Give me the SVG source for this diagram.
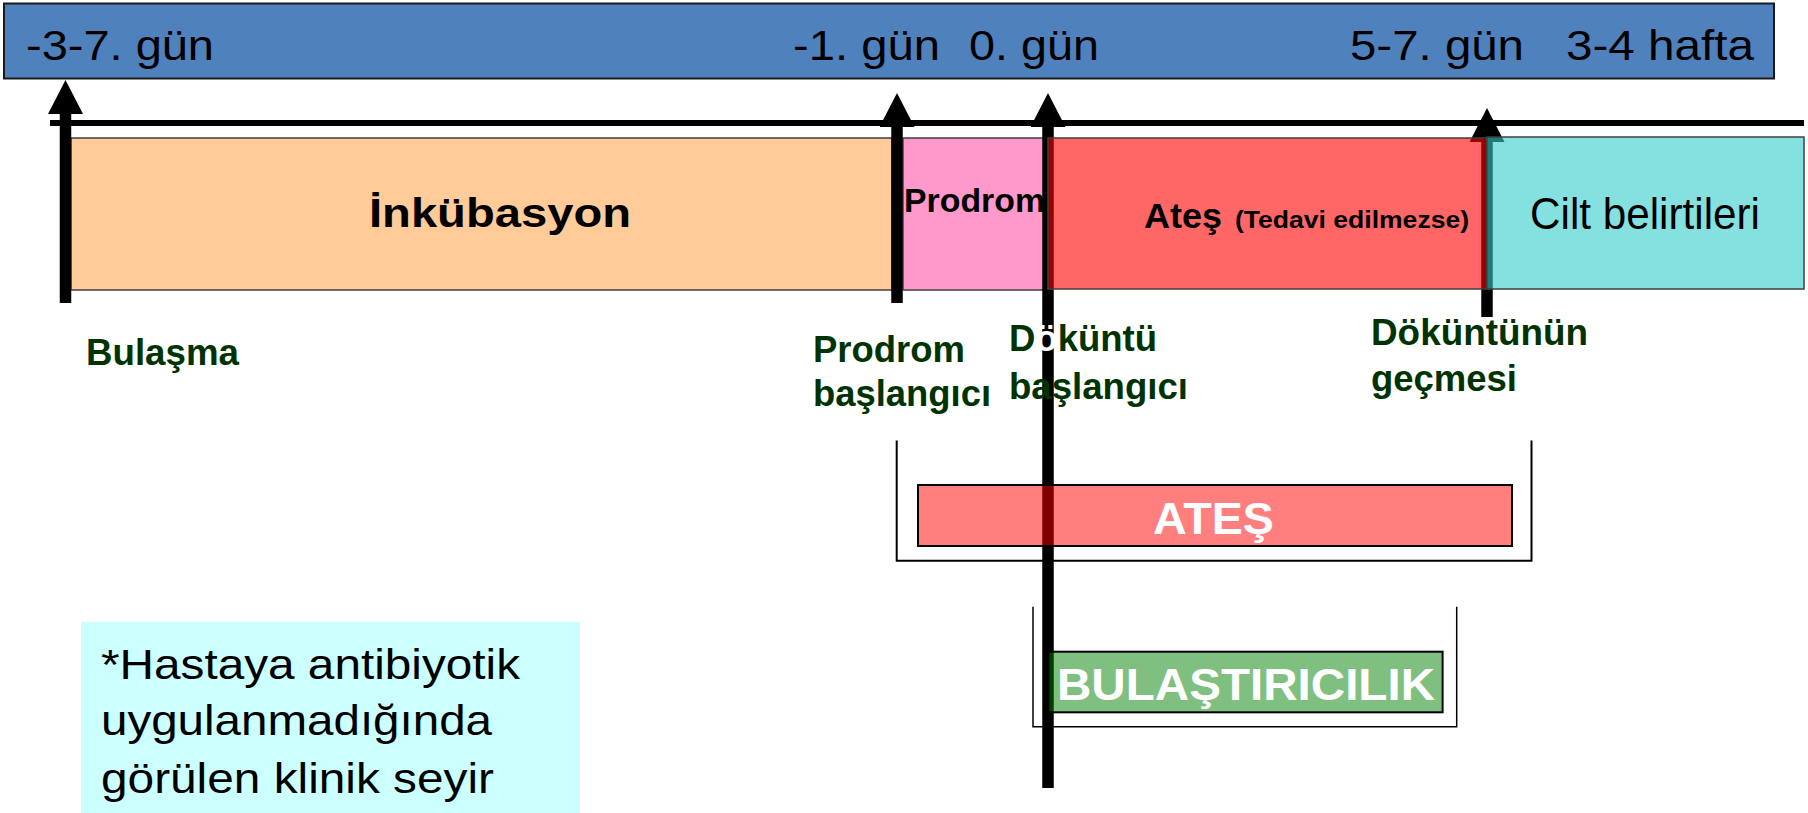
<svg xmlns="http://www.w3.org/2000/svg" width="1808" height="813" viewBox="0 0 1808 813">
  <style>
    text { font-family: "Liberation Sans", Arial, sans-serif; }
    .day { font-size: 43px; fill: #000; }
    .phase { font-weight: bold; fill: #000; }
    .event { font-size: 36px; font-weight: bold; fill: #003300; }
    .bar-label { font-weight: bold; fill: #fff; }
    .note { font-size: 43px; fill: #000; }
    .box { stroke: #404040; stroke-width: 1.5; }
    .shaft { stroke: #000; stroke-width: 11.5; fill: none; marker-end: url(#head); }
    .bracket { fill: none; stroke: #000; }
  </style>
  <defs>
    <marker id="head" viewBox="0 0 34 35" markerWidth="34" markerHeight="35" markerUnits="userSpaceOnUse" refX="2" refY="17.5" orient="auto">
      <path d="M0,0 L34,17.5 L0,35 Z" fill="#000"/>
    </marker>
  </defs>

  <rect width="1808" height="813" fill="#fff"/>

  <!-- time scale header -->
  <g id="time-scale">
    <rect x="4" y="3.5" width="1770" height="75" fill="#4F81BD" stroke="#1a1a1a" stroke-width="2"/>
    <text class="day" x="26" y="60" textLength="188" lengthAdjust="spacingAndGlyphs">-3-7. gün</text>
    <text class="day" x="793" y="60" textLength="147" lengthAdjust="spacingAndGlyphs">-1. gün</text>
    <text class="day" x="969" y="60" textLength="130" lengthAdjust="spacingAndGlyphs">0. gün</text>
    <text class="day" x="1350" y="60" textLength="174" lengthAdjust="spacingAndGlyphs">5-7. gün</text>
    <text class="day" x="1566" y="60" textLength="188" lengthAdjust="spacingAndGlyphs">3-4 hafta</text>
  </g>

  <!-- opaque phases sit under the event arrows -->
  <g id="phase-inkubasyon">
    <rect class="box" x="71" y="138" width="821" height="152" fill="#FFCC99"/>
    <text class="phase" x="369" y="227" font-size="41" textLength="262" lengthAdjust="spacingAndGlyphs">İnkübasyon</text>
  </g>
  <g id="phase-prodrom">
    <rect class="box" x="903" y="138" width="145" height="152" fill="#FF99CC"/>
    <text class="phase" x="904" y="212" font-size="33.5" textLength="141" lengthAdjust="spacingAndGlyphs">Prodrom</text>
  </g>

  <!-- axis and event arrows -->
  <g id="connectors">
    <line x1="50" y1="123" x2="1804" y2="123" stroke="#000" stroke-width="6"/>
    <line class="shaft" x1="65.5" y1="303" x2="65.5" y2="112"/>
    <line class="shaft" x1="897" y1="303" x2="897" y2="125"/>
    <line class="shaft" x1="1048" y1="788" x2="1048" y2="125"/>
    <line class="shaft" x1="1487" y1="317" x2="1487" y2="140"/>
  </g>

  <!-- translucent phases drawn over the arrows -->
  <g id="phase-ates">
    <rect class="box" x="1048" y="138" width="439" height="151" fill="#FF0000" fill-opacity="0.6"/>
    <text class="phase" x="1144" y="228" font-size="35" textLength="78" lengthAdjust="spacingAndGlyphs">Ateş</text>
    <text class="phase" x="1235" y="228" font-size="23" textLength="234" lengthAdjust="spacingAndGlyphs">(Tedavi edilmezse)</text>
  </g>
  <g id="phase-cilt">
    <rect class="box" x="1487" y="137" width="317" height="152" fill="#33CCCC" fill-opacity="0.6"/>
    <text x="1530" y="229" font-size="44" fill="#000" textLength="230" lengthAdjust="spacingAndGlyphs">Cilt belirtileri</text>
  </g>

  <!-- event labels -->
  <g id="event-bulasma">
    <text class="event" x="86" y="365" textLength="153" lengthAdjust="spacingAndGlyphs">Bulaşma</text>
  </g>
  <g id="event-prodrom">
    <text class="event" x="813" y="362" textLength="152" lengthAdjust="spacingAndGlyphs">Prodrom</text>
    <text class="event" x="813" y="406" textLength="178" lengthAdjust="spacingAndGlyphs">başlangıcı</text>
  </g>
  <g id="event-dokuntu">
    <text class="event" x="1009" y="351" textLength="148" lengthAdjust="spacingAndGlyphs">D<tspan fill="#fff">ö</tspan>küntü</text>
    <text class="event" x="1009" y="399" textLength="179" lengthAdjust="spacingAndGlyphs">başlangıcı</text>
  </g>
  <g id="event-gecmesi">
    <text class="event" x="1371" y="345" textLength="217" lengthAdjust="spacingAndGlyphs">Döküntünün</text>
    <text class="event" x="1371" y="391" textLength="146" lengthAdjust="spacingAndGlyphs">geçmesi</text>
  </g>

  <!-- fever period -->
  <g id="period-ates">
    <path class="bracket" stroke-width="2" d="M896.7,440.5 V560.7 H1531.5 V440.5"/>
    <rect x="918" y="485" width="594" height="61" fill="#FF0000" fill-opacity="0.5" stroke="#000" stroke-width="2"/>
    <text class="bar-label" x="1153" y="534" font-size="45" textLength="121" lengthAdjust="spacingAndGlyphs">ATEŞ</text>
  </g>

  <!-- contagious period -->
  <g id="period-bulastiricilik">
    <path class="bracket" stroke-width="1.5" d="M1033,606.7 V726.7 H1456.7 V606.7"/>
    <rect x="1048.4" y="651.7" width="394.2" height="60.6" fill="#008000" fill-opacity="0.5" stroke="#000" stroke-width="2"/>
    <text class="bar-label" x="1057" y="700" font-size="44" textLength="378" lengthAdjust="spacingAndGlyphs">BULAŞTIRICILIK</text>
  </g>

  <!-- footnote -->
  <g id="note">
    <rect x="81" y="622" width="499" height="191" fill="#CCFFFF"/>
    <text class="note" x="101" y="679" textLength="419" lengthAdjust="spacingAndGlyphs">*Hastaya antibiyotik</text>
    <text class="note" x="101" y="735" textLength="391" lengthAdjust="spacingAndGlyphs">uygulanmadığında</text>
    <text class="note" x="101" y="793" textLength="393" lengthAdjust="spacingAndGlyphs">görülen klinik seyir</text>
  </g>
</svg>
